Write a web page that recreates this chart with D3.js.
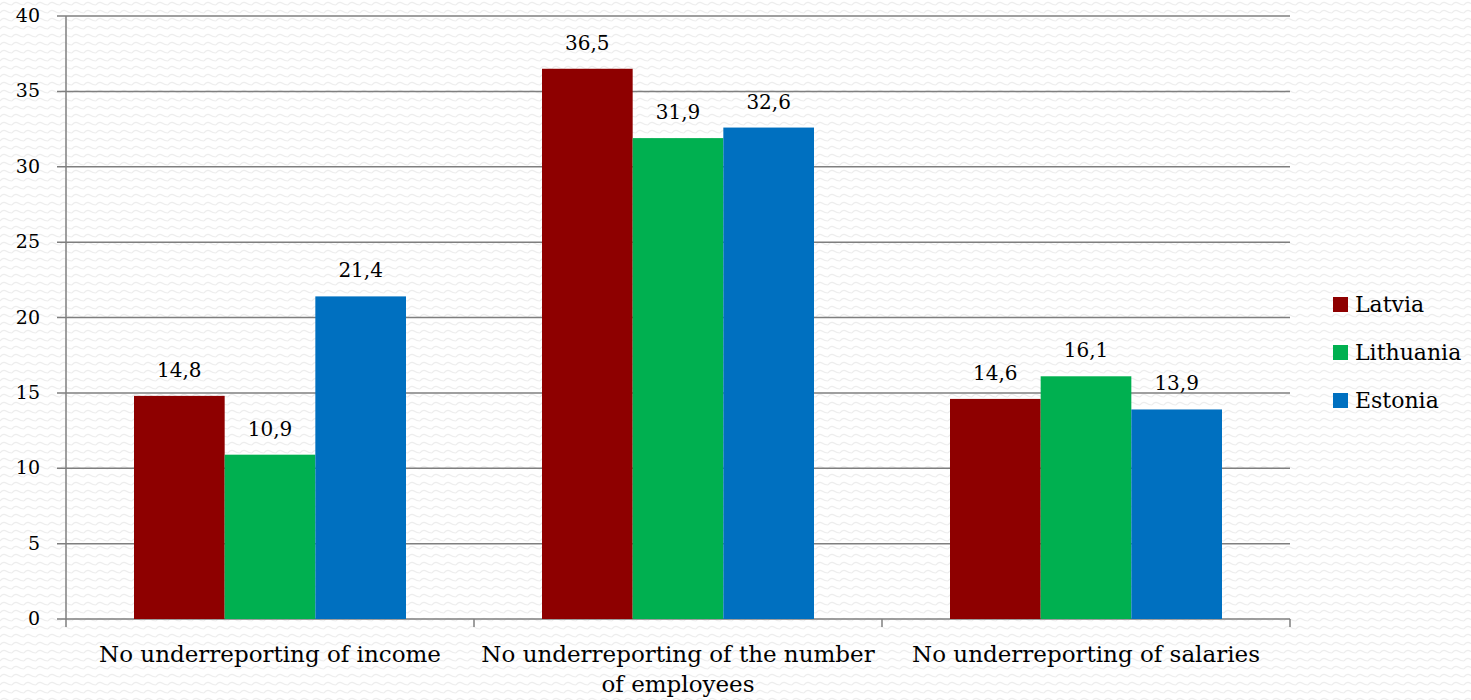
<!DOCTYPE html>
<html>
<head>
<meta charset="utf-8">
<script src="https://cdn.jsdelivr.net/npm/d3@7"></script>
<style>
  html, body { margin: 0; padding: 0; background: #fff; }
  svg { display: block; }
  text { font-family: "DejaVu Serif", "Liberation Serif", serif; fill: #000; }
</style>
</head>
<body>
<svg id="chart" width="1471" height="700"></svg>
<script>
// Survey shares (%) by country for each type of reporting behaviour
const categories = [
  ["No underreporting of income"],
  ["No underreporting of the number", "of employees"],
  ["No underreporting of salaries"]
];
const seriesNames = ["Latvia", "Lithuania", "Estonia"];
const latvia    = [14.8, 36.5, 14.6];
const lithuania = [10.9, 31.9, 16.1];
const estonia   = [21.4, 32.6, 13.9];
const yTicks = [0, 5, 10, 15, 20, 25, 30, 35, 40];
const colors = ["#8e0000", "#00b050", "#0070c0"];

const series = [latvia, lithuania, estonia];
const fmt = v => String(v).replace(".", ",");

const svg = d3.select("#chart");
const W = 1471, H = 700;

// faint wavy background texture
const defs = svg.append("defs");
const pat = defs.append("pattern")
  .attr("id", "wave").attr("patternUnits", "userSpaceOnUse")
  .attr("width", 12).attr("height", 8);
pat.append("rect").attr("width", 12).attr("height", 8).attr("fill", "#ffffff");
pat.append("path")
  .attr("d", "M0,5 Q3,1 6,3 T12,5")
  .attr("fill", "none").attr("stroke", "#ededed").attr("stroke-width", 1.1);
svg.append("rect").attr("width", W).attr("height", H).attr("fill", "url(#wave)");

const plotLeft = 66, plotRight = 1290, plotTop = 16, plotBottom = 619;

const x0 = d3.scaleBand().domain(d3.range(categories.length))
  .range([plotLeft, plotRight]).paddingInner(0).paddingOuter(0);
const x1 = d3.scaleBand().domain(d3.range(seriesNames.length))
  .range([0, x0.bandwidth()]).paddingInner(0).paddingOuter(0.75);
const y = d3.scaleLinear().domain([0, 40]).range([plotBottom, plotTop]);

// horizontal gridlines with outward ticks
svg.append("g").selectAll("line").data(yTicks).join("line")
  .attr("x1", plotLeft - 9).attr("x2", plotRight)
  .attr("y1", d => y(d)).attr("y2", d => y(d))
  .attr("stroke", "#7f7f7f").attr("stroke-width", 1.5);

// y tick labels
svg.append("g").selectAll("text").data(yTicks).join("text")
  .attr("x", 40).attr("y", d => y(d) + 6)
  .attr("text-anchor", "end")
  .style("font-size", "19px")
  .text(d => d);

// bars
const groups = svg.append("g").selectAll("g").data(categories).join("g")
  .attr("transform", (d, i) => `translate(${x0(i)},0)`);

groups.selectAll("rect")
  .data((d, i) => series.map((s, k) => ({ k, v: s[i] })))
  .join("rect")
  .attr("x", d => x1(d.k))
  .attr("y", d => y(d.v))
  .attr("width", x1.bandwidth())
  .attr("height", d => y(0) - y(d.v))
  .attr("fill", d => colors[d.k]);

groups.selectAll("text.val")
  .data((d, i) => series.map((s, k) => ({ k, v: s[i] })))
  .join("text").attr("class", "val")
  .attr("x", d => x1(d.k) + x1.bandwidth() / 2)
  .attr("y", d => y(d.v) - 19)
  .attr("text-anchor", "middle")
  .style("font-size", "20px")
  .text(d => fmt(d.v));

// axis lines
svg.append("line").attr("x1", plotLeft).attr("x2", plotLeft)
  .attr("y1", plotTop).attr("y2", plotBottom)
  .attr("stroke", "#7f7f7f").attr("stroke-width", 1.5);

const catTicks = d3.range(categories.length + 1).map(i => plotLeft + i * x0.bandwidth());
svg.append("g").selectAll("line").data(catTicks).join("line")
  .attr("x1", d => d).attr("x2", d => d)
  .attr("y1", plotBottom).attr("y2", plotBottom + 8)
  .attr("stroke", "#7f7f7f").attr("stroke-width", 1.5);

// category labels
const catLabels = svg.append("g").selectAll("text").data(categories).join("text")
  .attr("text-anchor", "middle")
  .style("font-size", "23px");
catLabels.selectAll("tspan").data((d, i) => d.map(line => ({ line, i })))
  .join("tspan")
  .attr("x", d => x0(d.i) + x0.bandwidth() / 2)
  .attr("y", (d, j) => 662 + j * 30)
  .text(d => d.line);

// legend
const legend = svg.append("g").selectAll("g").data(seriesNames).join("g")
  .attr("transform", (d, i) => `translate(1333,${297 + i * 48})`);
legend.append("rect").attr("width", 15).attr("height", 15)
  .attr("fill", (d, i) => colors[i]);
legend.append("text").attr("x", 22).attr("y", 15)
  .style("font-size", "22px")
  .text(d => d);
</script>
</body>
</html>
